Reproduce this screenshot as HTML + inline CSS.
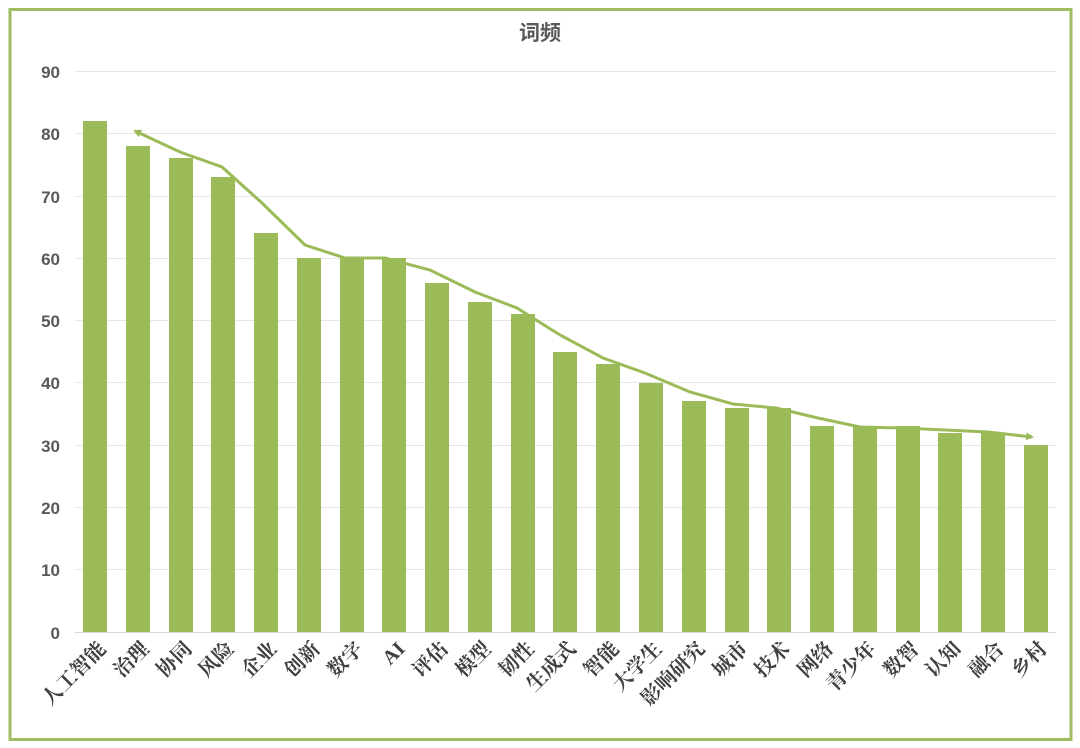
<!DOCTYPE html>
<html><head><meta charset="utf-8"><style>
html,body{margin:0;padding:0;background:#fff;}
svg{display:block;}
</style></head><body>
<svg width="1080" height="748" xmlns="http://www.w3.org/2000/svg">
<rect x="10" y="9.5" width="1061" height="730" fill="#fff" stroke="#9fbc63" stroke-width="3"/>
<text x="540" y="40" text-anchor="middle" font-family="Liberation Sans, Noto Sans CJK SC, sans-serif" font-size="21" font-weight="bold" fill="#595959">词频</text>
<g stroke="#e6e6e6" stroke-width="1">
<line x1="75" x2="1056" y1="71.5" y2="71.5"/><line x1="75" x2="1056" y1="133.5" y2="133.5"/>
<line x1="75" x2="1056" y1="196.5" y2="196.5"/><line x1="75" x2="1056" y1="258.5" y2="258.5"/>
<line x1="75" x2="1056" y1="320.5" y2="320.5"/><line x1="75" x2="1056" y1="382.5" y2="382.5"/>
<line x1="75" x2="1056" y1="445.5" y2="445.5"/><line x1="75" x2="1056" y1="507.5" y2="507.5"/>
<line x1="75" x2="1056" y1="569.5" y2="569.5"/><line x1="75" x2="1056" y1="632.5" y2="632.5" stroke="#d9d9d9"/>
</g>
<g font-family="Liberation Sans, sans-serif" font-size="17" font-weight="bold" fill="#595959" text-anchor="end">
<text x="60" y="78">90</text><text x="60" y="140">80</text><text x="60" y="203">70</text>
<text x="60" y="265">60</text><text x="60" y="327">50</text><text x="60" y="389">40</text>
<text x="60" y="452">30</text><text x="60" y="514">20</text><text x="60" y="576">10</text>
<text x="60" y="639">0</text>
</g>
<g fill="#9bbb59">
<rect x="83" y="121" width="24" height="511"/>
<rect x="126" y="146" width="24" height="486"/>
<rect x="169" y="158" width="24" height="474"/>
<rect x="211" y="177" width="24" height="455"/>
<rect x="254" y="233" width="24" height="399"/>
<rect x="297" y="258" width="24" height="374"/>
<rect x="340" y="258" width="24" height="374"/>
<rect x="382" y="258" width="24" height="374"/>
<rect x="425" y="283" width="24" height="349"/>
<rect x="468" y="302" width="24" height="330"/>
<rect x="511" y="314" width="24" height="318"/>
<rect x="553" y="352" width="24" height="280"/>
<rect x="596" y="364" width="24" height="268"/>
<rect x="639" y="383" width="24" height="249"/>
<rect x="682" y="401" width="24" height="231"/>
<rect x="725" y="408" width="24" height="224"/>
<rect x="767" y="408" width="24" height="224"/>
<rect x="810" y="426" width="24" height="206"/>
<rect x="853" y="426" width="24" height="206"/>
<rect x="896" y="426" width="24" height="206"/>
<rect x="938" y="433" width="24" height="199"/>
<rect x="981" y="433" width="24" height="199"/>
<rect x="1024" y="445" width="24" height="187"/>
</g>
<g font-family="Liberation Serif, Noto Serif CJK SC, serif" font-size="20" font-weight="bold" fill="#404040" text-anchor="end">
<text transform="translate(107,650) rotate(-45)">人工智能</text>
<text transform="translate(150,650) rotate(-45)">治理</text>
<text transform="translate(193,650) rotate(-45)">协同</text>
<text transform="translate(235,650) rotate(-45)">风险</text>
<text transform="translate(278,650) rotate(-45)">企业</text>
<text transform="translate(321,650) rotate(-45)">创新</text>
<text transform="translate(364,650) rotate(-45)">数字</text>
<text transform="translate(406,650) rotate(-45)">AI</text>
<text transform="translate(449,650) rotate(-45)">评估</text>
<text transform="translate(492,650) rotate(-45)">模型</text>
<text transform="translate(535,650) rotate(-45)">韧性</text>
<text transform="translate(577,650) rotate(-45)">生成式</text>
<text transform="translate(620,650) rotate(-45)">智能</text>
<text transform="translate(663,650) rotate(-45)">大学生</text>
<text transform="translate(706,650) rotate(-45)">影响研究</text>
<text transform="translate(749,650) rotate(-45)">城市</text>
<text transform="translate(791,650) rotate(-45)">技术</text>
<text transform="translate(834,650) rotate(-45)">网络</text>
<text transform="translate(877,650) rotate(-45)">青少年</text>
<text transform="translate(920,650) rotate(-45)">数智</text>
<text transform="translate(962,650) rotate(-45)">认知</text>
<text transform="translate(1005,650) rotate(-45)">融合</text>
<text transform="translate(1048,650) rotate(-45)">乡村</text>
</g>
<defs><marker id="a" markerWidth="8" markerHeight="8" refX="6" refY="4" orient="auto-start-reverse" markerUnits="userSpaceOnUse"><path d="M0,0 L8,4 L0,8 z" fill="#9bbb59"/></marker></defs>
<polyline fill="none" stroke="#9bbb59" stroke-width="3" marker-start="url(#a)" marker-end="url(#a)" points="135,131 180,152 222,167 262,203 305,245 345,258 385,258 430,270 475,292 517,308 560,335 603,358 645,373 690,392 733,404 776,408 818,418 860,427 903,428 945,430 988,432 1032,437"/>
</svg>
</body></html>
